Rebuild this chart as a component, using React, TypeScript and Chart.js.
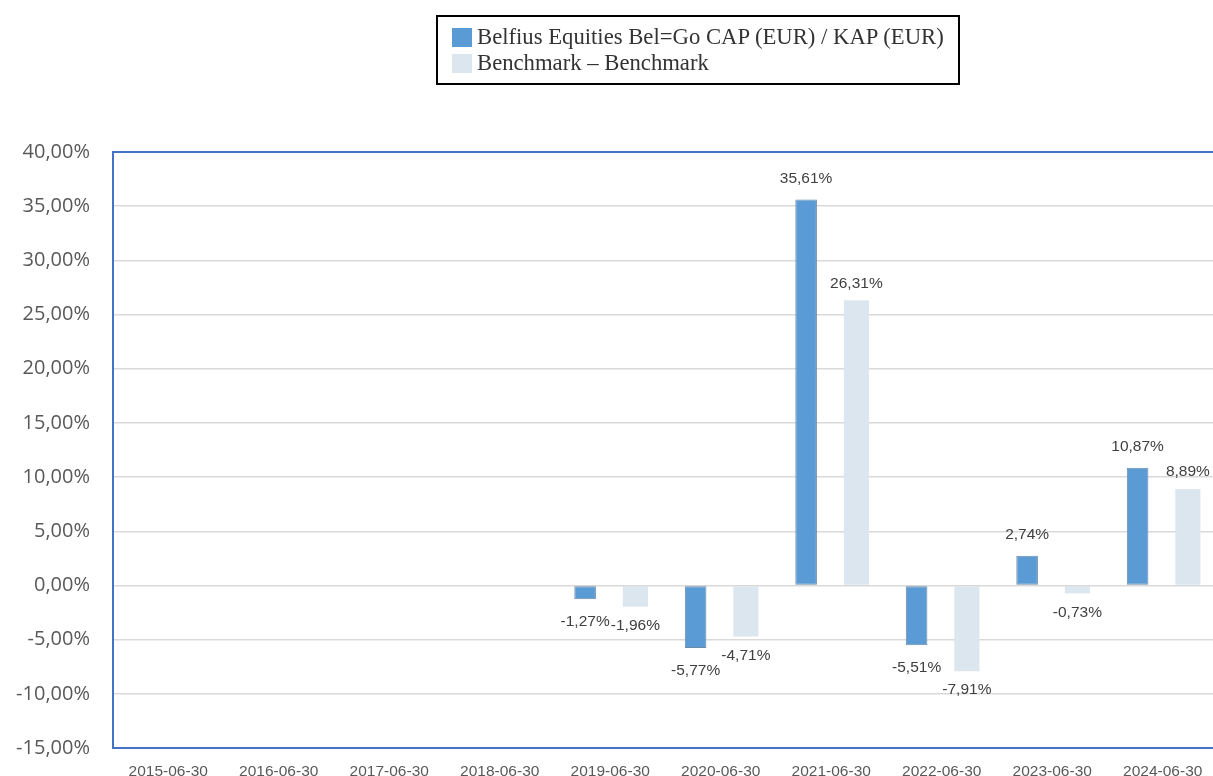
import React, { useEffect, useRef } from "react";
import { Chart, registerables } from "chart.js";

Chart.register(...registerables);

const categories = [
  "2015-06-30", "2016-06-30", "2017-06-30", "2018-06-30", "2019-06-30",
  "2020-06-30", "2021-06-30", "2022-06-30", "2023-06-30", "2024-06-30",
];
const fundValues = [null, null, null, null, -1.27, -5.77, 35.61, -5.51, 2.74, 10.87];
const benchmarkValues = [null, null, null, null, -1.96, -4.71, 26.31, -7.91, -0.73, 8.89];
const seriesNames = ["Belfius Equities Bel=Go CAP (EUR) / KAP (EUR)", "Benchmark \u2013 Benchmark"];
const seriesColors = ["#5B9BD5", "#DCE6EE"];
const yMin = -15;
const yMax = 40;
const yStep = 5;

const fmt = (v: number) => v.toFixed(2).replace(".", ",") + "%";

const framePlugin = {
  id: "frame",
  afterDatasetsDraw(chart: any) {
    const { ctx, chartArea } = chart;
    ctx.save();
    ctx.strokeStyle = "#4472C4";
    ctx.lineWidth = 2;
    ctx.strokeRect(chartArea.left, chartArea.top, chartArea.right - chartArea.left, chartArea.bottom - chartArea.top);
    ctx.restore();
  },
};

const labelPlugin = {
  id: "valueLabels",
  afterDatasetsDraw(chart: any) {
    const { ctx } = chart;
    ctx.save();
    ctx.font = "15.5px 'Liberation Sans', Arial, sans-serif";
    ctx.fillStyle = "#404040";
    ctx.textAlign = "center";
    ctx.textBaseline = "middle";
    chart.data.datasets.forEach((ds: any, di: number) => {
      const meta = chart.getDatasetMeta(di);
      meta.data.forEach((el: any, i: number) => {
        const v = ds.data[i];
        if (v === null || v === undefined) return;
        const off = v >= 0 ? (di === 0 ? 21 : 17) : (di === 0 ? 23 : 19);
        const y = v >= 0 ? el.y - off : el.y + off;
        ctx.fillText(fmt(v), el.x, y);
      });
    });
    ctx.restore();
  },
};

export default function App() {
  const ref = useRef<HTMLCanvasElement | null>(null);
  useEffect(() => {
    if (!ref.current) return;
    const chart = new Chart(ref.current, {
      type: "bar",
      data: {
        labels: categories,
        datasets: [
          {
            label: seriesNames[0],
            data: fundValues as any,
            backgroundColor: seriesColors[0],
            borderColor: "#6E8BA8",
            borderWidth: 1,
            borderSkipped: false,
            barPercentage: 0.43,
            categoryPercentage: 0.91,
          },
          {
            label: seriesNames[1],
            data: benchmarkValues as any,
            backgroundColor: seriesColors[1],
            borderWidth: 0,
            barPercentage: 0.5,
            categoryPercentage: 0.91,
          },
        ],
      },
      options: {
        responsive: false,
        animation: false,
        layout: { padding: { top: 152, left: 0, right: 0, bottom: 0 } },
        plugins: {
          legend: { display: false },
          tooltip: { enabled: false },
        },
        scales: {
          x: {
            offset: true,
            grid: { display: false, drawTicks: false },
            border: { display: false },
            ticks: {
              color: "#595959",
              font: { family: "'Liberation Sans', Arial, sans-serif", size: 15.5 },
              padding: 14,
              maxRotation: 0,
              autoSkip: false,
            },
            afterFit(scale: any) {
              scale.height = 28;
            },
          },
          y: {
            min: yMin,
            max: yMax,
            grid: { color: "#D9D9D9", lineWidth: 1.5, drawTicks: false },
            border: { display: false },
            ticks: {
              stepSize: yStep,
              color: "#595959",
              font: { family: "'Open Sans', sans-serif", size: 20 },
              padding: 23,
              callback: (v: any) => fmt(Number(v)),
            },
            afterFit(scale: any) {
              scale.width = 113;
              scale.paddingTop = 0;
              scale.paddingBottom = 0;
            },
          },
        },
      },
      plugins: [framePlugin, labelPlugin],
    });
    return () => chart.destroy();
  }, []);

  return (
    <div style={{ position: "absolute", left: 0, top: 0, width: 1213, height: 776, overflow: "hidden", background: "#fff" }}>
      <canvas ref={ref} width={1218} height={776} style={{ position: "absolute", left: 0, top: 0 }} />
      <div
        style={{
          position: "absolute",
          left: 436,
          top: 15,
          width: 524,
          height: 70,
          boxSizing: "border-box",
          border: "2px solid #000",
          fontFamily: "'Liberation Serif', 'Times New Roman', serif",
          fontSize: 22.7,
          color: "#333",
        }}
      >
        {seriesNames.map((name, i) => (
          <div key={name} style={{ position: "absolute", left: 14, top: 10 + i * 26, height: 20, display: "flex", alignItems: "center", whiteSpace: "nowrap" }}>
            <span style={{ display: "inline-block", width: 20, height: 19, background: seriesColors[i], marginRight: 5 }} />
            <span style={{ lineHeight: "20px" }}>{name}</span>
          </div>
        ))}
      </div>
    </div>
  );
}
